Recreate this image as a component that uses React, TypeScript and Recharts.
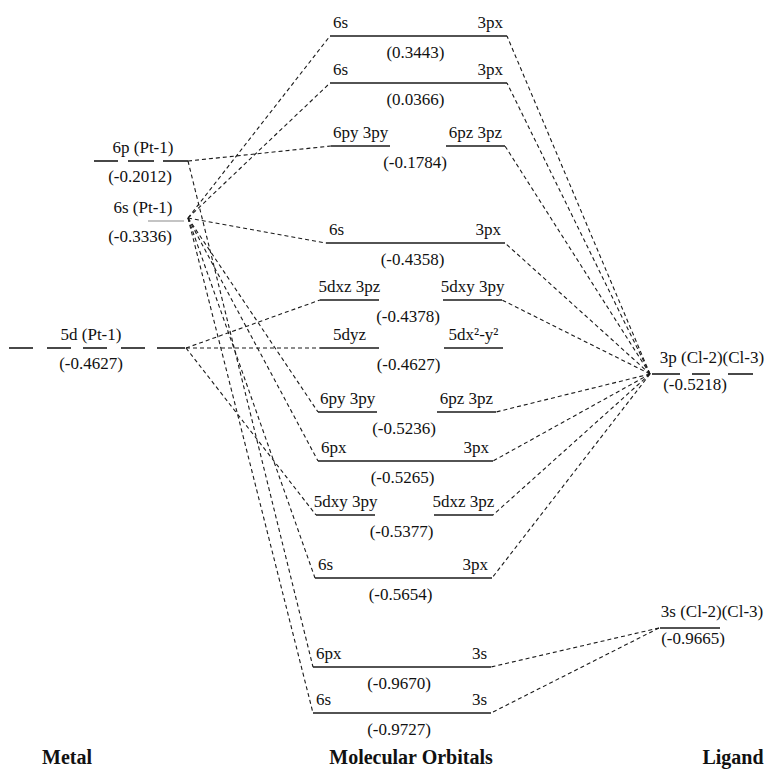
import React from 'react'
import { ComposedChart, XAxis, YAxis, Scatter, ReferenceLine } from 'recharts'

// orbital names and energies (a.u.)
const metalOrbitals = ['6p (Pt-1)', '6s (Pt-1)', '5d (Pt-1)']
const metalEnergies = ['-0.2012', '-0.3336', '-0.4627']
const ligandOrbitals = ['3p (Cl-2)(Cl-3)', '3s (Cl-2)(Cl-3)']
const ligandEnergies = ['-0.5218', '-0.9665']

const moEnergies = ['0.3443', '0.0366', '-0.1784', '-0.4358', '-0.4378', '-0.4627', '-0.5236', '-0.5265', '-0.5377', '-0.5654', '-0.9670', '-0.9727']
const moLeftLabels = ['6s', '6s', '6py  3py', '6s', '5dxz 3pz', '5dyz', '6py  3py', '6px', '5dxy 3py', '6s', '6px', '6s']
const moRightLabels = ['3px', '3px', '6pz  3pz', '3px', '5dxy  3py', '5dx²-y²', '6pz 3pz', '3px', '5dxz 3pz', '3px', '3s', '3s']
const moSplit = [false, false, true, false, true, true, true, false, true, false, false, false]

// which MO each atomic level feeds into (index into moEnergies)
const metalLinks = [[2, 10], [0, 1, 3, 6, 7, 9, 11], [4, 5, 8]]
const ligandLinks = [[0, 1, 2, 3, 4, 6, 7, 8, 9], [10, 11]]

const columnTitles = ['Metal', 'Molecular Orbitals', 'Ligand']

// schematic layout, in diagram units (not to energy scale)
const moRowY = [36, 83, 146, 243, 300, 348, 412, 461, 515, 578, 667, 713]
const moLeftX = [330, 330, 331, 326, 320, 320, 318, 318, 316, 315, 313, 313]
const moRightX = [507, 507, 505, 505, 502, 503, 496, 493, 493, 492, 491, 491]
const SPLIT_W = 59

const metalRowY = [161, 221, 348]
const metalSegments = [
  [[94, 118], [128, 154], [163, 188]],
  [[148, 184]],
  [[9, 33], [47, 71], [83, 107], [121, 145], [157, 185]],
]
const metalAnchor = [[188, 161], [188, 218], [186, 348]]
const metalLabelX = [143, 143, 91]
const metalValueX = [140, 140, 91]

const ligandRowY = [374, 628]
const ligandSegments = [
  [[652, 680], [692, 710], [728, 753]],
  [[660, 720]],
]
const ligandAnchor = [[650, 374], [659, 628]]
const ligandLabelX = [712, 712]
const ligandValueX = [695, 693]

const titleX = [67, 411, 733]
const TITLE_Y = 757

const FONT = 'Liberation Serif, Times New Roman, DejaVu Serif, serif'
const LEVEL = '#1a1a1a'
const DASH = '#1a1a1a'

type Seg = { x1: number; y1: number; x2: number; y2: number; kind: 'level' | 'thin' | 'dash' }
type Txt = { x: number; y: number; text: string; anchor: 'start' | 'middle' | 'end'; title?: boolean }

const segs: Seg[] = []
const texts: Txt[] = []

moEnergies.forEach((e, i) => {
  const y = moRowY[i]
  const l = moLeftX[i]
  const r = moRightX[i]
  if (moSplit[i]) {
    segs.push({ x1: l, y1: y, x2: l + SPLIT_W, y2: y, kind: 'level' })
    segs.push({ x1: r - SPLIT_W, y1: y, x2: r, y2: y, kind: 'level' })
    texts.push({ x: l + SPLIT_W / 2, y: y - 14, text: moLeftLabels[i], anchor: 'middle' })
    texts.push({ x: r - SPLIT_W / 2, y: y - 14, text: moRightLabels[i], anchor: 'middle' })
  } else {
    segs.push({ x1: l, y1: y, x2: r, y2: y, kind: 'level' })
    texts.push({ x: l + 3, y: y - 14, text: moLeftLabels[i], anchor: 'start' })
    texts.push({ x: r - 4, y: y - 14, text: moRightLabels[i], anchor: 'end' })
  }
  texts.push({ x: (l + r) / 2 - 3, y: y + 16, text: `(${e})`, anchor: 'middle' })
})

metalOrbitals.forEach((name, i) => {
  const y = metalRowY[i]
  metalSegments[i].forEach(([a, b]) =>
    segs.push({ x1: a, y1: y, x2: b, y2: y, kind: i === 1 ? 'thin' : 'level' })
  )
  texts.push({ x: metalLabelX[i], y: y - 14, text: name, anchor: 'middle' })
  texts.push({ x: metalValueX[i], y: y + 15, text: `(${metalEnergies[i]})`, anchor: 'middle' })
  const [ax, ay] = metalAnchor[i]
  metalLinks[i].forEach((m) => segs.push({ x1: ax, y1: ay, x2: moLeftX[m], y2: moRowY[m], kind: 'dash' }))
})

ligandOrbitals.forEach((name, i) => {
  const y = ligandRowY[i]
  ligandSegments[i].forEach(([a, b]) => segs.push({ x1: a, y1: y, x2: b, y2: y, kind: 'level' }))
  texts.push({ x: ligandLabelX[i], y: y - 17, text: name, anchor: 'middle' })
  texts.push({ x: ligandValueX[i], y: y + 10, text: `(${ligandEnergies[i]})`, anchor: 'middle' })
  const [ax, ay] = ligandAnchor[i]
  ligandLinks[i].forEach((m) => segs.push({ x1: ax, y1: ay, x2: moRightX[m], y2: moRowY[m], kind: 'dash' }))
})

columnTitles.forEach((t, i) => texts.push({ x: titleX[i], y: TITLE_Y, text: t, anchor: 'middle', title: true }))

const renderText = (props: any) => {
  const { cx, cy, payload } = props
  return (
    <text
      x={cx}
      y={cy}
      textAnchor={payload.anchor}
      dominantBaseline="central"
      style={{
        fontFamily: FONT,
        fontSize: payload.title ? 20 : 17,
        fontWeight: payload.title ? 'bold' : 'normal',
      }}
      fill="#111"
    >
      {payload.text}
    </text>
  )
}

export default function App() {
  return (
    <div style={{ position: 'fixed', top: 0, left: 0, width: 769, height: 770, background: '#fff', overflow: 'hidden' }}>
      <ComposedChart width={769} height={770} margin={{ top: 0, right: 0, bottom: 0, left: 0 }}>
        <XAxis type="number" dataKey="x" domain={[0, 769]} hide />
        <YAxis type="number" dataKey="y" domain={[0, 770]} reversed hide />
        {segs.map((s, i) => (
          <ReferenceLine
            key={i}
            segment={[{ x: s.x1, y: s.y1 }, { x: s.x2, y: s.y2 }]}
            stroke={s.kind === 'thin' ? '#8a8a8a' : s.kind === 'dash' ? DASH : LEVEL}
            strokeWidth={s.kind === 'level' ? 1.6 : 1.1}
            strokeDasharray={s.kind === 'dash' ? '4 3' : undefined}
          />
        ))}
        <Scatter data={texts} dataKey="y" shape={renderText} isAnimationActive={false} />
      </ComposedChart>
    </div>
  )
}
